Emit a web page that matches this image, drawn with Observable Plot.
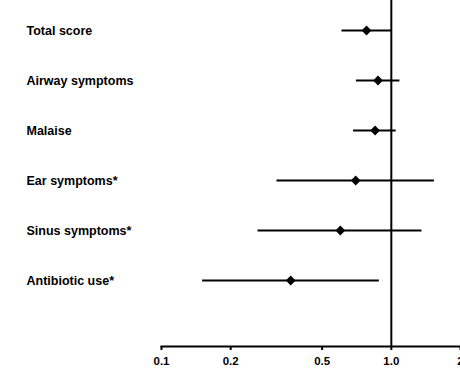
<!DOCTYPE html>
<html>
<head>
<meta charset="utf-8">
<script src="https://cdn.jsdelivr.net/npm/d3@7"></script>
<script src="https://cdn.jsdelivr.net/npm/@observablehq/plot@0.6"></script>
<style>
  html, body { margin: 0; padding: 0; background: #fff; }
  #chart svg { display: block; }
</style>
</head>
<body>
<div id="chart"></div>
<script>
const categories = ["Total score", "Airway symptoms", "Malaise", "Ear symptoms*", "Sinus symptoms*", "Antibiotic use*"];
const estimates = [0.78, 0.875, 0.85, 0.70, 0.60, 0.365];
const lower = [0.61, 0.705, 0.685, 0.318, 0.263, 0.151];
const upper = [1.0, 1.09, 1.05, 1.54, 1.36, 0.887];
const xTicks = [0.1, 0.2, 0.5, 1, 2];
const xTickLabels = ["0.1", "0.2", "0.5", "1.0", "2"];

const rows = categories.map((c, i) => ({name: c, est: estimates[i], lo: lower[i], hi: upper[i]}));

const chart = Plot.plot({
  width: 460,
  height: 369,
  marginLeft: 161,
  marginRight: 0,
  marginTop: 0,
  marginBottom: 23,
  style: {fontFamily: "'Liberation Sans', Arial, sans-serif", background: "#fff", color: "#000"},
  x: {type: "log", domain: [0.1, 2]},
  y: {type: "point", domain: categories, range: [28, 282], padding: 0},
  marks: [
    Plot.ruleX([1], {stroke: "#000", strokeWidth: 2}),
    Plot.frame({anchor: "bottom", stroke: "#000", strokeWidth: 2}),
    Plot.ruleY(rows, {y: "name", x1: "lo", x2: "hi", stroke: "#000", strokeWidth: 2.2}),
    Plot.dot(rows, {x: "est", y: "name", symbol: "diamond2", r: 4.4, fill: "#000", stroke: "none"}),
    Plot.axisX({ticks: xTicks, tickFormat: (d) => xTickLabels[xTicks.indexOf(d)], tickSize: 4, tickPadding: 6, strokeWidth: 2, fontSize: 11.5, fontWeight: "bold", label: null}),
    Plot.axisY({tickSize: 0, tickPadding: 0, textAnchor: "start", dx: -135, fontSize: 12.5, fontWeight: "bold", label: null})
  ]
});
document.getElementById("chart").appendChild(chart);
</script>
</body>
</html>
